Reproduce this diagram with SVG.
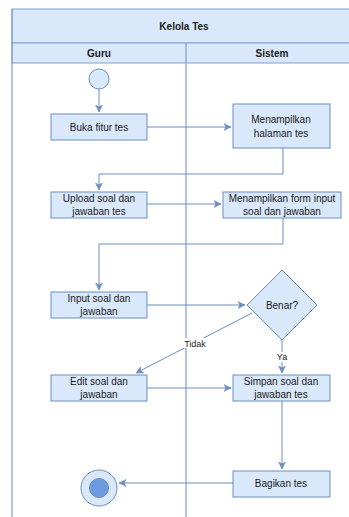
<svg xmlns="http://www.w3.org/2000/svg" width="349" height="517" viewBox="0 0 349 517">
<style>
.bg{fill:#ffffff}
.band{fill:#dae8fc;stroke:#7f9fd0;stroke-width:1}
.lane{fill:none;stroke:#7f9fd0;stroke-width:1.2}
.node{fill:#dae8fc;stroke:#6c8ebf;stroke-width:1}
.t{font-family:"Liberation Sans",Arial,sans-serif;font-size:10px;fill:#1a1a1a;text-anchor:middle}
.b{font-weight:bold}
.lbl{font-family:"Liberation Sans",Arial,sans-serif;font-size:9px;fill:#1a1a1a;text-anchor:middle}
.e{fill:none;stroke:#6c8ebf;stroke-width:1}
</style>
<defs>
<marker id="ar" markerWidth="8" markerHeight="8" refX="7" refY="4" orient="auto" markerUnits="userSpaceOnUse">
<path d="M0,0.5 L7,4 L0,7.5 L1.8,4 Z" fill="#6c8ebf" stroke="#6c8ebf" stroke-width="0.5"/>
</marker>
</defs>
<rect class="bg" x="0" y="0" width="349" height="517"/>
<g id="pool">
<rect class="band" x="12" y="9" width="346" height="34"/>
<text class="t b" x="184" y="30">Kelola Tes</text>
<rect class="band" x="12" y="43" width="346" height="20"/>
<text class="t b" x="99" y="57">Guru</text>
<text class="t b" x="272" y="57">Sistem</text>
<line class="lane" x1="12" y1="9" x2="12" y2="517"/>
<line class="lane" x1="186" y1="43" x2="186" y2="517"/>
</g>
<g id="connectors">
<path class="e" d="M99,89 V112" marker-end="url(#ar)"/>
<path class="e" d="M147,127 H231" marker-end="url(#ar)"/>
<path class="e" d="M283,148 V174 H99 V190" marker-end="url(#ar)"/>
<path class="e" d="M147,204 H221" marker-end="url(#ar)"/>
<path class="e" d="M283,218 V244 H99 V290" marker-end="url(#ar)"/>
<path class="e" d="M147,305 H245" marker-end="url(#ar)"/>
<path class="e" d="M252,313 L136,373" marker-end="url(#ar)"/>
<path class="e" d="M282,340 V373" marker-end="url(#ar)"/>
<path class="e" d="M147,388 H231" marker-end="url(#ar)"/>
<path class="e" d="M282,401 V469" marker-end="url(#ar)"/>
<path class="e" d="M233,483 H119" marker-end="url(#ar)"/>
<rect x="183" y="338" width="25" height="10" fill="#ffffff"/>
<text class="lbl" x="195" y="347">Tidak</text>
<rect x="276" y="352" width="12" height="10" fill="#ffffff"/>
<text class="lbl" x="282" y="360">Ya</text>
</g>
<g id="start">
<circle cx="99" cy="79" r="10" fill="#dae8fc" stroke="#6c8ebf"/>
</g>
<g id="buka">
<rect class="node" x="51" y="114" width="96" height="26"/>
<text class="t" x="99" y="131">Buka fitur tes</text>
</g>
<g id="halaman">
<rect class="node" x="233" y="104" width="97" height="44"/>
<text class="t" x="281" y="123">Menampilkan</text>
<text class="t" x="281" y="137">halaman tes</text>
</g>
<g id="upload">
<rect class="node" x="51" y="192" width="96" height="26"/>
<text class="t" x="99" y="202">Upload soal dan</text>
<text class="t" x="99" y="215">jawaban tes</text>
</g>
<g id="form">
<rect class="node" x="223" y="192" width="118" height="26"/>
<text class="t" x="282" y="202">Menampilkan form input</text>
<text class="t" x="282" y="215">soal dan jawaban</text>
</g>
<g id="input">
<rect class="node" x="51" y="292" width="96" height="26"/>
<text class="t" x="99" y="302">Input soal dan</text>
<text class="t" x="99" y="315">jawaban</text>
</g>
<g id="benar">
<polygon class="node" points="282,270 317,305 282,340 247,305"/>
<text class="t" x="282" y="309">Benar?</text>
</g>
<g id="edit">
<rect class="node" x="51" y="375" width="96" height="26"/>
<text class="t" x="99" y="385">Edit soal dan</text>
<text class="t" x="99" y="398">jawaban</text>
</g>
<g id="simpan">
<rect class="node" x="233" y="375" width="97" height="26"/>
<text class="t" x="281" y="385">Simpan soal dan</text>
<text class="t" x="281" y="398">jawaban tes</text>
</g>
<g id="bagikan">
<rect class="node" x="233" y="471" width="97" height="26"/>
<text class="t" x="281" y="487">Bagikan tes</text>
</g>
<g id="end">
<circle cx="99" cy="488" r="18" fill="#dae8fc" stroke="#6c8ebf"/>
<circle cx="99" cy="488" r="9.5" fill="#6d9be0" stroke="#6c8ebf"/>
</g>
</svg>
